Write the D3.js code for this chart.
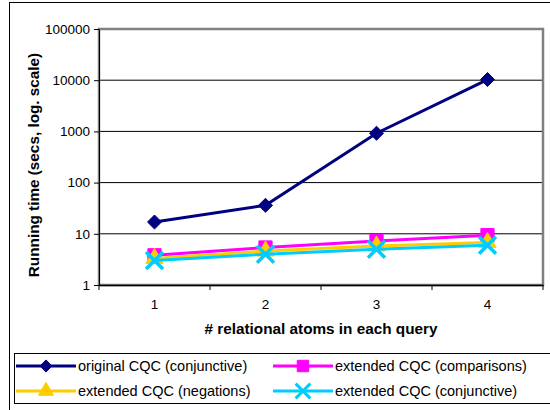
<!DOCTYPE html>
<html>
<head>
<meta charset="utf-8">
<script src="https://cdn.jsdelivr.net/npm/d3@7"></script>
<style>
    body { margin: 0; background: #fff; }
    text { font-family: "Liberation Sans", Arial, sans-serif; }
</style>
</head>
<body>
<svg id="container" width="550" height="410"></svg>
<script>
    // data
    let atoms = ["1", "2", "3", "4"]
    let yTicks = [1, 10, 100, 1000, 10000, 100000]
    let seriesNames = ["original CQC (conjunctive)", "extended CQC (comparisons)",
        "extended CQC (negations)", "extended CQC (conjunctive)"]
    let originalCQC = [17, 36, 920, 10300]
    let extComparisons = [3.8, 5.4, 7.2, 9.4]
    let extNegations = [3.3, 4.6, 5.8, 6.8]
    let extConjunctive = [3.0, 4.0, 5.0, 6.0]

    let colors = ["#000080", "#ff00ff", "#ffcc00", "#00ccff"]
    let symbols = [d3.symbolDiamond2, d3.symbolSquare, d3.symbolTriangle, d3.symbolX]
    let symbolSizes = [125, 175, 130, 190]
    let series = [originalCQC, extComparisons, extNegations, extConjunctive]

    let svg = d3.select("#container")
    let plotLeft = 99, plotTop = 29, plotRight = 543, plotBottom = 285

    // outer frame (runs past the window edge)
    svg.append("rect")
        .attr("x", 9.5).attr("y", 2.5).attr("width", 580).attr("height", 440)
        .attr("fill", "none").attr("stroke", "#000").attr("stroke-width", 1)

    let x = d3.scaleBand().domain(atoms).range([plotLeft, plotRight])
    let y = d3.scaleLog().domain([1, 100000]).range([plotBottom, plotTop])

    // gridlines
    svg.append("g").selectAll("line")
        .data(yTicks.slice(1, -1))
        .join("line")
        .attr("x1", plotLeft).attr("x2", plotRight)
        .attr("y1", d => y(d)).attr("y2", d => y(d))
        .attr("stroke", "#000").attr("stroke-width", 1)

    // plot area border
    svg.append("rect")
        .attr("x", plotLeft).attr("y", plotTop).attr("width", plotRight - plotLeft).attr("height", plotBottom - plotTop)
        .attr("fill", "none").attr("stroke", "#808080").attr("stroke-width", 2.5)

    let yAxis = d3.axisLeft(y).tickValues(yTicks).tickFormat(d3.format("d")).tickSize(5).tickSizeOuter(0)
    let yg = svg.append("g").attr("transform", `translate(${plotLeft},0)`).call(yAxis)
    yg.select(".domain").attr("stroke", "#000").attr("stroke-width", 1)
    yg.selectAll(".tick line").attr("stroke", "#000")
    yg.selectAll(".tick text").attr("font-size", 13.5).attr("fill", "#000").attr("x", -9)
        .attr("font-family", "Liberation Sans, Arial, sans-serif")

    let xAxis = d3.axisBottom(x).tickSize(0).tickSizeOuter(0)
    let xg = svg.append("g").attr("transform", `translate(0,${plotBottom})`).call(xAxis)
    xg.select(".domain").attr("stroke", "#000").attr("stroke-width", 1.5)
    xg.selectAll(".tick text").attr("font-size", 13.5).attr("fill", "#000").attr("y", 14)
        .attr("font-family", "Liberation Sans, Arial, sans-serif")
    // tick marks sit between categories
    xg.selectAll(".sep")
        .data(atoms.concat(["end"]))
        .join("line")
        .attr("x1", (d, i) => plotLeft + i * x.step()).attr("x2", (d, i) => plotLeft + i * x.step())
        .attr("y1", 0).attr("y2", 5).attr("stroke", "#000")

    // axis titles
    svg.append("text")
        .text("# relational atoms in each query")
        .attr("x", (plotLeft + plotRight) / 2).attr("y", 334)
        .attr("text-anchor", "middle").attr("font-weight", "bold").attr("font-size", 15.3)
    svg.append("text")
        .text("Running time (secs, log. scale)")
        .attr("transform", `translate(39, ${(plotTop + plotBottom) / 2 + 8}) rotate(-90)`)
        .attr("text-anchor", "middle").attr("font-weight", "bold").attr("font-size", 15.3)

    let line = d3.line().x((d, i) => x(atoms[i]) + x.bandwidth() / 2).y(d => y(d))

    series.forEach((vals, k) => {
        let g = svg.append("g")
        g.append("path").attr("d", line(vals))
            .attr("fill", "none").attr("stroke", colors[k]).attr("stroke-width", 3)
        g.selectAll("path.m")
            .data(vals)
            .join("path").attr("class", "m")
            .attr("transform", (d, i) => `translate(${x(atoms[i]) + x.bandwidth() / 2},${y(d)})`)
            .attr("d", d3.symbol(symbols[k], symbolSizes[k]))
            .attr("fill", k == 3 ? "none" : colors[k])
            .attr("stroke", colors[k]).attr("stroke-width", k == 3 ? 3.5 : 1)
    })

    // legend
    let legend = svg.append("g")
    legend.append("rect")
        .attr("x", 14.5).attr("y", 353.5).attr("width", 560).attr("height", 50)
        .attr("fill", "none").attr("stroke", "#000").attr("stroke-width", 1)
    let legendPos = [[16, 366], [273, 366], [16, 391], [273, 391]]
    seriesNames.forEach((name, k) => {
        let [lx, ly] = legendPos[k]
        legend.append("line")
            .attr("x1", lx).attr("x2", lx + 60).attr("y1", ly).attr("y2", ly)
            .attr("stroke", colors[k]).attr("stroke-width", 3)
        legend.append("path")
            .attr("transform", `translate(${lx + 30},${ly})`)
            .attr("d", d3.symbol(symbols[k], symbolSizes[k] * 0.75))
            .attr("fill", k == 3 ? "none" : colors[k])
            .attr("stroke", colors[k]).attr("stroke-width", k == 3 ? 3 : 1)
        legend.append("text")
            .text(name)
            .attr("x", lx + 62).attr("y", ly + 5)
            .attr("font-size", 14.5).attr("fill", "#000")
    })
</script>
</body>
</html>
